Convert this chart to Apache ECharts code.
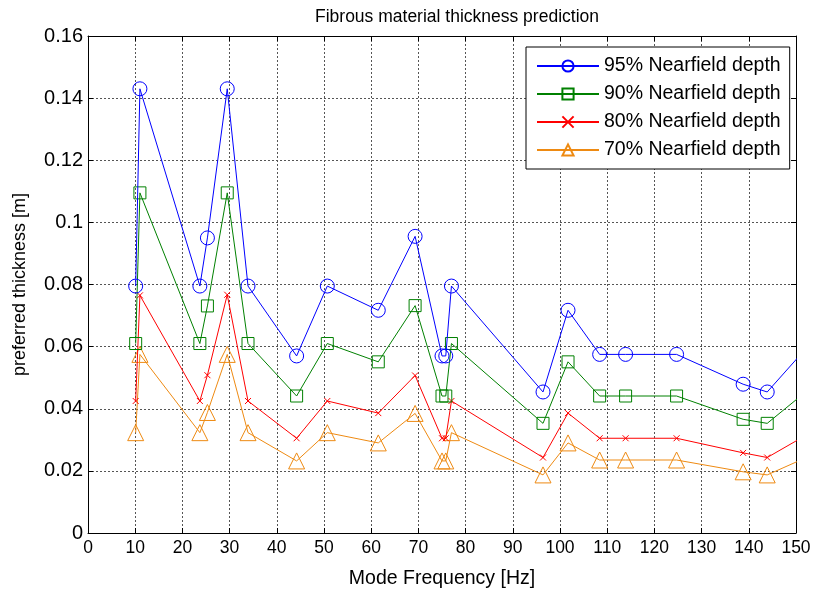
<!DOCTYPE html>
<html>
<head>
<meta charset="utf-8">
<script src="https://cdn.jsdelivr.net/npm/echarts@6/dist/echarts.min.js"></script>
<style>
html,body{margin:0;padding:0;background:#fff;}
#chart{width:816px;height:589px;}
</style>
</head>
<body>
<div id="chart"></div>
<script>
const freq = [10.1, 11.0, 23.7, 25.3, 29.5, 33.9, 44.2, 50.7, 61.5, 69.3, 75.0, 75.8, 77.0, 96.4, 101.7, 108.4, 113.9, 124.7, 138.8, 143.9, 151.0];
const depth95 = [0.0795, 0.143, 0.0795, 0.095, 0.143, 0.0795, 0.057, 0.0795, 0.0717, 0.0955, 0.057, 0.057, 0.0795, 0.0454, 0.0717, 0.0575, 0.0575, 0.0575, 0.0479, 0.0454, 0.0575];
const depth90 = [0.061, 0.1095, 0.061, 0.0731, 0.1095, 0.061, 0.0441, 0.061, 0.0551, 0.0732, 0.0441, 0.0441, 0.061, 0.0353, 0.0551, 0.0441, 0.0441, 0.0441, 0.0366, 0.0353, 0.0441];
const depth80 = [0.0425, 0.0765, 0.0425, 0.0508, 0.0767, 0.0425, 0.0305, 0.0425, 0.0386, 0.0507, 0.0305, 0.0305, 0.0425, 0.0243, 0.0386, 0.0305, 0.0305, 0.0305, 0.0258, 0.0243, 0.0305];
const depth70 = [0.0323, 0.0575, 0.0323, 0.0388, 0.0575, 0.0323, 0.0232, 0.0323, 0.029, 0.0385, 0.0232, 0.0232, 0.0323, 0.0187, 0.029, 0.0235, 0.0235, 0.0235, 0.0197, 0.0187, 0.0235];
const seriesNames = ['95% Nearfield depth', '90% Nearfield depth', '80% Nearfield depth', '70% Nearfield depth'];
const seriesColors = ['#0000FF', '#008000', '#FF0000', '#EE8A12'];

const FONT = 'Liberation Sans, Arial, sans-serif';
const chart = echarts.init(document.getElementById('chart'), null, {renderer: 'canvas'});

function zip(xs, ys) { return xs.map((x, i) => [x, ys[i]]); }

const symbols = [
  {symbol: 'circle', size: 14},
  {symbol: 'rect', size: 12},
  {symbol: 'path://M0,0L10,10M10,0L0,10', size: 6},
  {symbol: 'triangle', size: 16}
];
const allData = [depth95, depth90, depth80, depth70];

const series = allData.map((d, i) => ({
  name: seriesNames[i],
  type: 'line',
  data: zip(freq, d),
  xAxisIndex: 0,
  yAxisIndex: 0,
  symbol: symbols[i].symbol,
  symbolSize: symbols[i].size,
  showAllSymbol: true,
  clip: true,
  lineStyle: {color: seriesColors[i], width: 1},
  itemStyle: {color: 'rgba(255,255,255,0)', borderColor: seriesColors[i], borderWidth: 1},
  emphasis: {disabled: true},
  animation: false,
  z: 10 - i
}));

const gridLine = {show: true, lineStyle: {color: '#555', type: [2, 2], width: 1}};

chart.setOption({
  animation: false,
  backgroundColor: '#fff',
  title: {
    text: 'Fibrous material thickness prediction',
    left: 452, top: 3, textAlign: 'center',
    textStyle: {fontFamily: FONT, fontSize: 17.5, fontWeight: 'normal', color: '#000'}
  },
  grid: {left: 88, right: 20, top: 36, bottom: 56, containLabel: false, outerBoundsMode: 'none'},
  legend: {
    data: seriesNames,
    orient: 'vertical',
    left: 526, top: 47,
    width: 262,
    backgroundColor: '#fff',
    borderColor: '#000', borderWidth: 1,
    padding: [9, 9, 9, 10],
    itemWidth: 62, itemHeight: 14, itemGap: 8,
    textStyle: {fontFamily: FONT, fontSize: 19.5, color: '#000'}
  },
  xAxis: [{
    type: 'value', min: 0, max: 150, interval: 10, position: 'bottom',
    name: 'Mode Frequency [Hz]', nameLocation: 'middle', nameGap: 36,
    nameTextStyle: {fontFamily: FONT, fontSize: 19.5, color: '#000'},
    axisLine: {show: true, onZero: false, lineStyle: {color: '#000', width: 1}},
    axisTick: {show: true, inside: true, length: 5, lineStyle: {color: '#000'}},
    axisLabel: {fontFamily: FONT, fontSize: 17.5, color: '#000', margin: 6},
    splitLine: gridLine
  }, {
    type: 'value', min: 0, max: 150, interval: 10, position: 'top',
    axisLine: {show: true, onZero: false, lineStyle: {color: '#000', width: 1}},
    axisTick: {show: true, inside: true, length: 5, lineStyle: {color: '#000'}},
    axisLabel: {show: false}, splitLine: {show: false}
  }],
  yAxis: [{
    type: 'value', min: 0, max: 0.16, interval: 0.02, position: 'left',
    name: 'preferred thickness [m]', nameLocation: 'middle', nameGap: 59, nameRotate: 90,
    nameTextStyle: {fontFamily: FONT, fontSize: 18, color: '#000'},
    axisLine: {show: true, onZero: false, lineStyle: {color: '#000', width: 1}},
    axisTick: {show: true, inside: true, length: 5, lineStyle: {color: '#000'}},
    axisLabel: {fontFamily: FONT, fontSize: 20, color: '#000', margin: 5},
    splitLine: gridLine
  }, {
    type: 'value', min: 0, max: 0.16, interval: 0.02, position: 'right',
    axisLine: {show: true, onZero: false, lineStyle: {color: '#000', width: 1}},
    axisTick: {show: true, inside: true, length: 5, lineStyle: {color: '#000'}},
    axisLabel: {show: false}, splitLine: {show: false}
  }],
  series: series
});
</script>
</body>
</html>
